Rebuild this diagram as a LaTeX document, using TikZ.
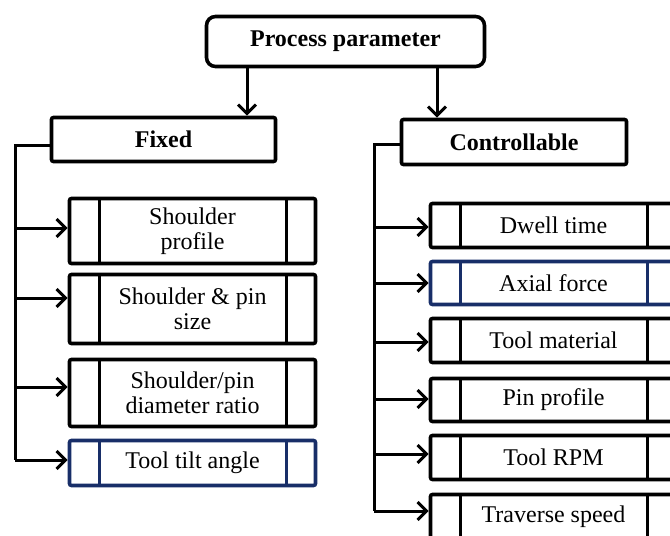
\documentclass[tikz,border=0pt]{standalone}
\usepackage{fontspec}
\setmainfont{Liberation Serif}
\usetikzlibrary{arrows.meta,calc}
\definecolor{navy}{RGB}{24,46,104}
\begin{document}
\begin{tikzpicture}[x=1pt,y=-1pt,
  lw/.style={line width=3pt},
  bw/.style={line width=3.6pt},
  txt/.style={font=\fontsize{24}{25}\selectfont, align=center, inner sep=0pt},
  head/.style={txt, draw, bw, font=\fontsize{24}{25}\selectfont\bfseries, rounded corners=2pt},
  split/.style={path picture={
      \draw[line width=3pt,#1] ([xshift=29.5pt]path picture bounding box.north west) -- ([xshift=29.5pt]path picture bounding box.south west);
      \draw[line width=3pt,#1] ([xshift=-29.5pt]path picture bounding box.north east) -- ([xshift=-29.5pt]path picture bounding box.south east);}},
  split/.default=black,
  item/.style={txt, draw, bw, rounded corners=2pt, minimum width=246pt, split},
  bitem/.style={item, draw=navy, split=navy},
  arr/.style={lw, -{Straight Barb[length=9pt,width=18pt,line width=3pt]}},
]
\useasboundingbox (0,0) rectangle (670,536);
\clip (0,0) rectangle (670,536);

% top
\node[head, rounded corners=9pt, minimum width=278pt, minimum height=50pt] (proc) at (345.5,41.5) {Process parameter};
\node[head, minimum width=224pt, minimum height=44pt] (fixed) at (163.5,139.5) {Fixed};
\node[head, minimum width=225pt, minimum height=45pt] (ctrl) at (514,142) {Controllable};

\coordinate (ax) at (247,0);
\coordinate (bx) at (437,0);
\draw[arr] (proc.south -| ax) -- (fixed.north -| ax);
\draw[arr] (proc.south -| bx) -- (ctrl.north -| bx);

% left items
\node[item, minimum height=65pt] (sp)  at (192.5,231) {Shoulder\\profile};
\node[item, minimum height=69pt] (sps) at (192.5,309) {Shoulder \& pin\\size};
\node[item, minimum height=67pt] (spd) at (192.5,393) {Shoulder/pin\\diameter ratio};
\node[bitem, minimum height=45pt] (tta) at (192.5,463) {Tool tilt angle};

% right items
\node[item, minimum height=44pt] (dt)  at (553.5,225.5) {Dwell time};
\node[bitem, minimum height=43pt] (af) at (553.5,283) {Axial force};
\node[item, minimum height=44pt] (tm)  at (553.5,340.5) {Tool material};
\node[item, minimum height=43pt] (pp)  at (553.5,400) {Pin profile};
\node[item, minimum height=44pt] (rpm) at (553.5,457.5) {Tool RPM};
\node[item, minimum height=44pt] (ts)  at (553.5,516.5) {Traverse speed};

% left spine
\coordinate (lt) at (15,145);
\coordinate (lb) at (15,460);
\draw[lw] (fixed.west |- lt) -- (lt) -- (lb);
\draw[arr] (lt |- {$(sp.west)+(0,-3)$}) -- ($(sp.west)+(0,-3)$);
\draw[arr] (lt |- {$(sps.west)+(0,-11)$}) -- ($(sps.west)+(0,-11)$);
\draw[arr] (lt |- {$(spd.west)+(0,-6)$}) -- ($(spd.west)+(0,-6)$);
\draw[arr] (lt |- {$(tta.west)+(0,-3)$}) -- ($(tta.west)+(0,-3)$);

% right spine
\coordinate (rt) at (374,144);
\coordinate (rb) at (374,511);
\draw[lw] (ctrl.west |- rt) -- (rt) -- (rb);
\draw[arr] (rt |- {$(dt.west)+(0,1.5)$}) -- ($(dt.west)+(0,1.5)$);
\draw[arr] (rt |- af.west) -- (af.west);
\draw[arr] (rt |- {$(tm.west)+(0,1.5)$}) -- ($(tm.west)+(0,1.5)$);
\draw[arr] (rt |- {$(pp.west)+(0,-1)$}) -- ($(pp.west)+(0,-1)$);
\draw[arr] (rt |- {$(rpm.west)+(0,-3.5)$}) -- ($(rpm.west)+(0,-3.5)$);
\draw[arr] (rt |- {$(ts.west)+(0,-5.5)$}) -- ($(ts.west)+(0,-5.5)$);
\end{tikzpicture}
\end{document}
